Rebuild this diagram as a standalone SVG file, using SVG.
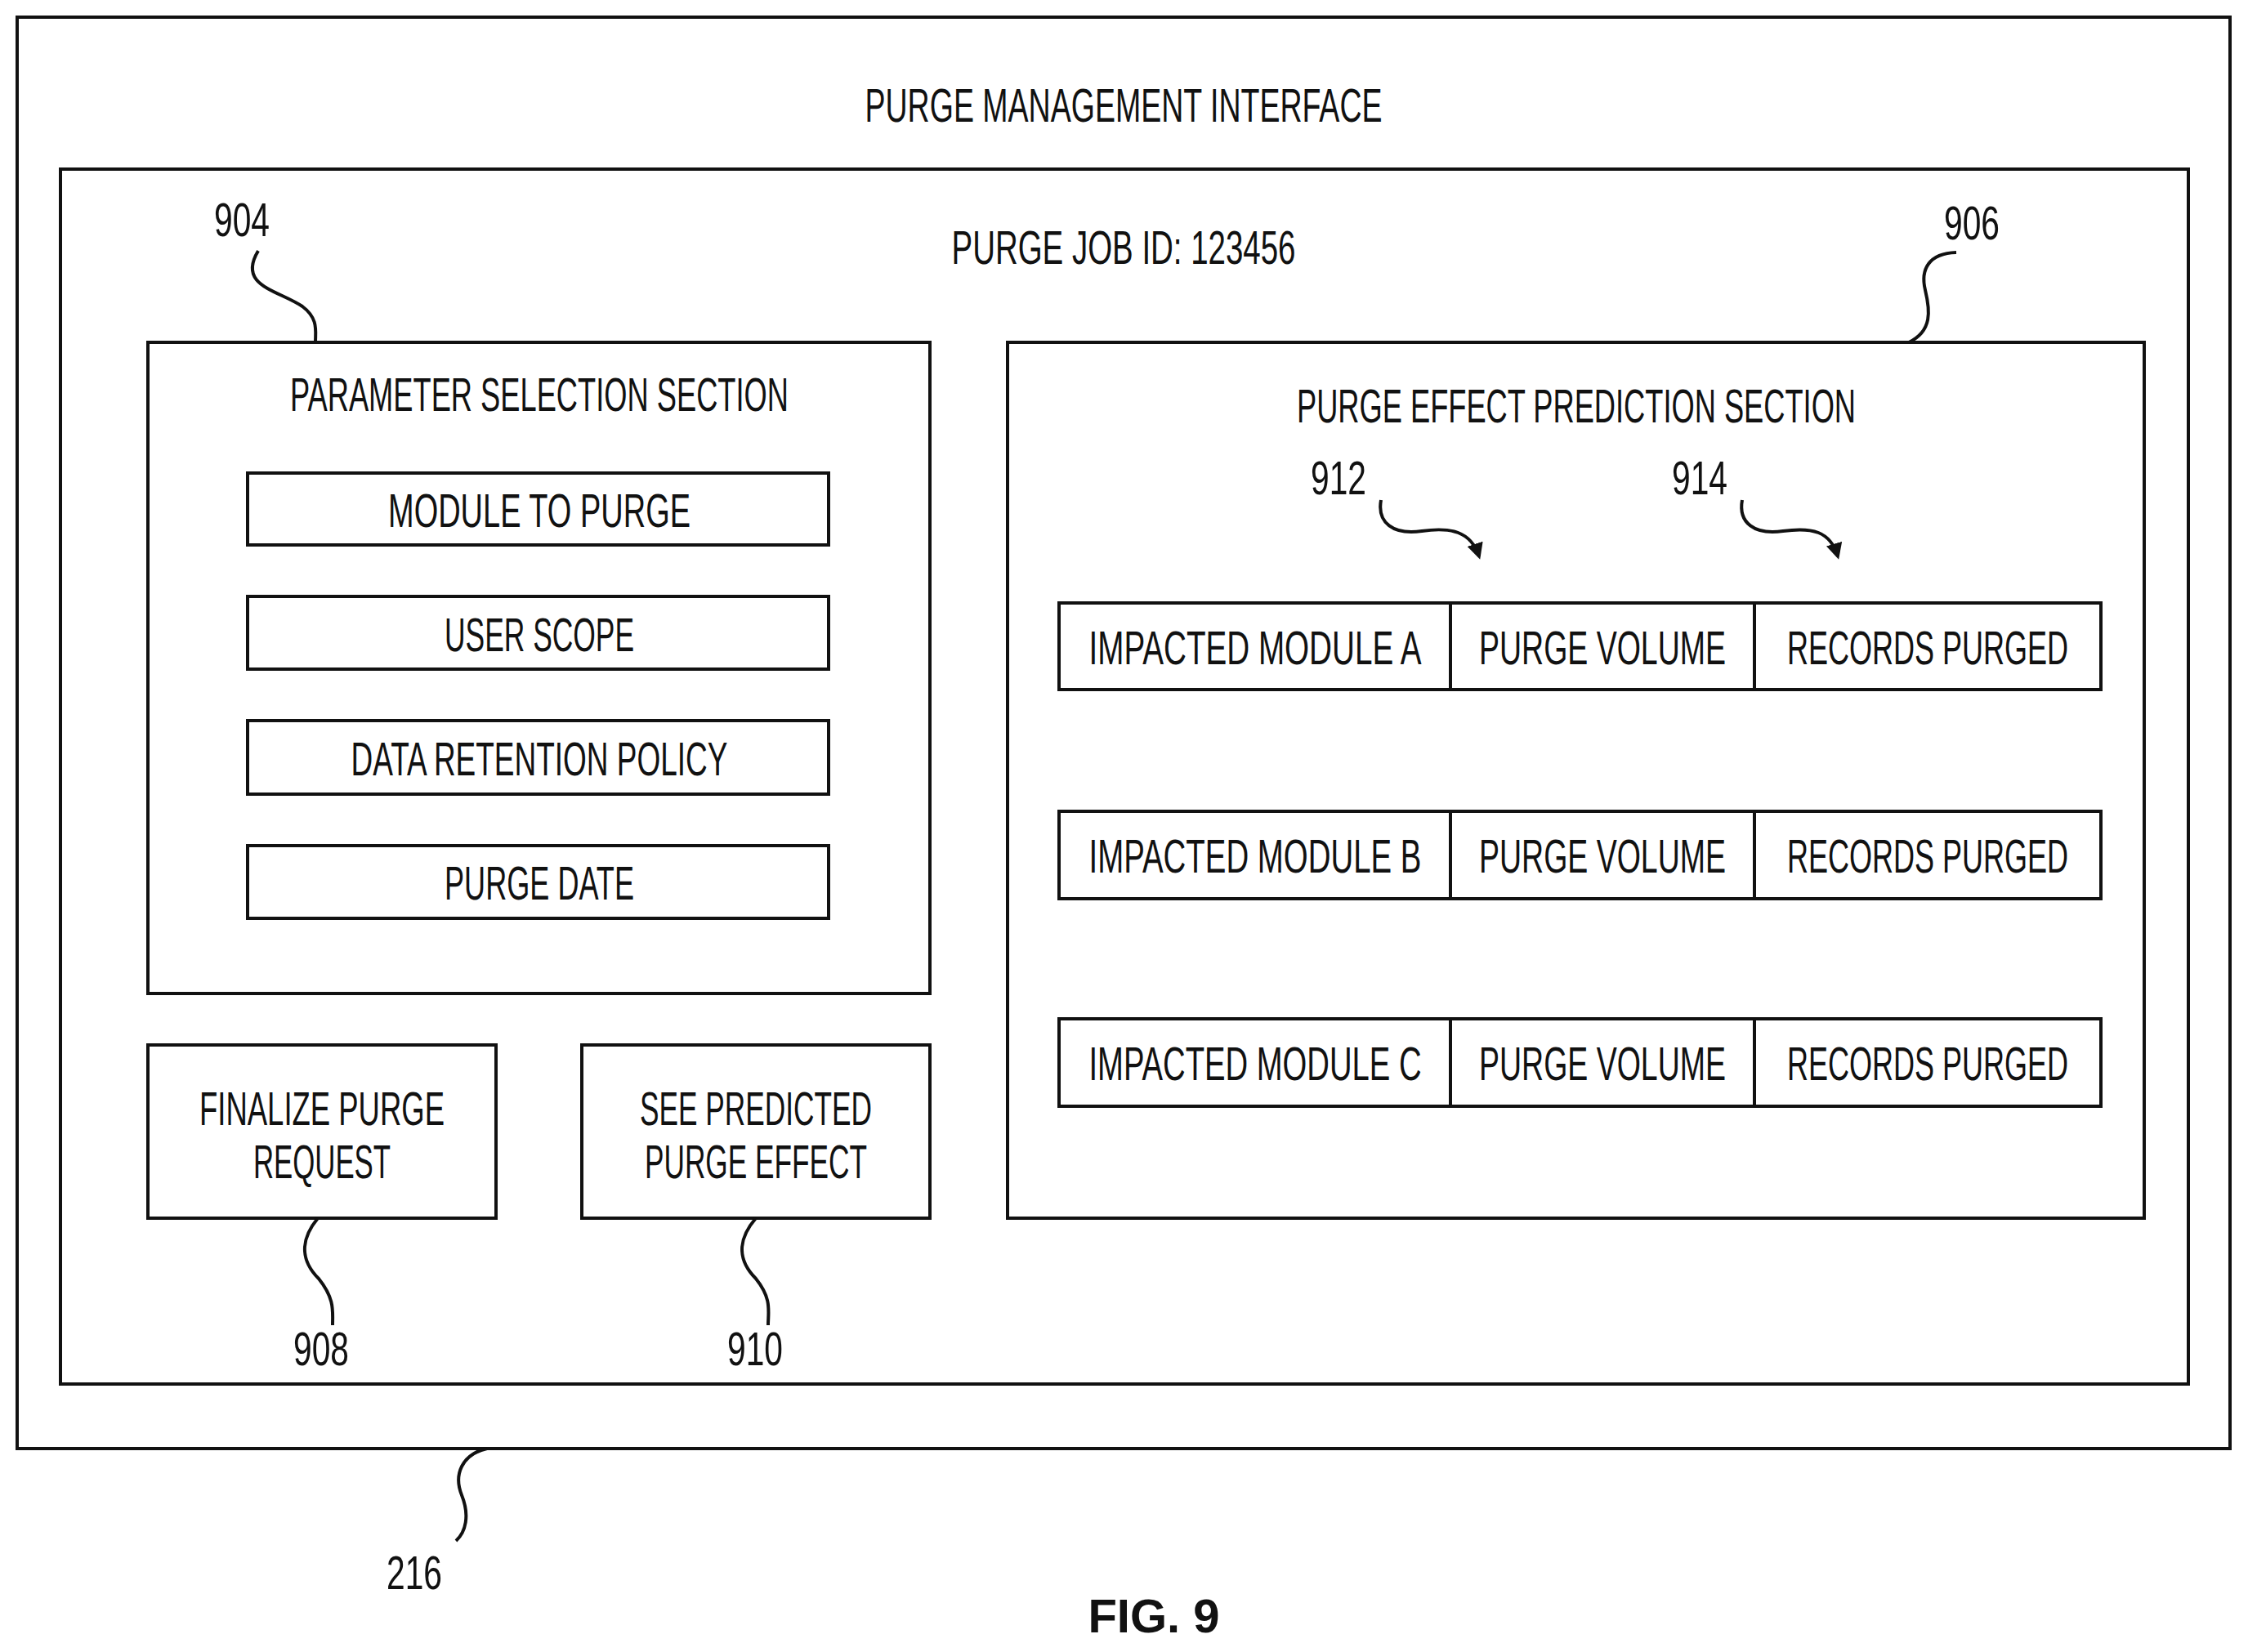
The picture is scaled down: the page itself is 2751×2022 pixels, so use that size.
<svg xmlns="http://www.w3.org/2000/svg" width="2751" height="2022" viewBox="0 0 2751 2022">
<style>
.b{fill:none;stroke:#111;stroke-width:4}
.l{fill:none;stroke:#111;stroke-width:4}
text{font-family:"Liberation Sans",Arial,sans-serif;font-size:58px;fill:#111;text-anchor:middle}
</style>
<defs><marker id="a" viewBox="0 0 10 10" refX="8" refY="5" markerWidth="5" markerHeight="5" orient="auto"><path d="M0,0L10,5L0,10z" fill="#111"/></marker></defs>
<rect width="2751" height="2022" fill="#fff"/>
<g id="outer"><rect class="b" x="21" y="21" width="2708" height="1752"/><text x="1375" y="149" textLength="633" lengthAdjust="spacingAndGlyphs">PURGE MANAGEMENT INTERFACE</text></g>
<g id="inner"><rect class="b" x="74" y="207" width="2604" height="1487"/><text x="1375" y="323" textLength="421" lengthAdjust="spacingAndGlyphs">PURGE JOB ID: 123456</text></g>
<g id="param"><rect class="b" x="181" y="419" width="957" height="797"/><text x="660" y="503" textLength="610" lengthAdjust="spacingAndGlyphs">PARAMETER SELECTION SECTION</text>
<rect class="b" x="303" y="579" width="711" height="88"/><text x="660" y="645" textLength="370" lengthAdjust="spacingAndGlyphs">MODULE TO PURGE</text>
<rect class="b" x="303" y="730" width="711" height="89"/><text x="660" y="797" textLength="232" lengthAdjust="spacingAndGlyphs">USER SCOPE</text>
<rect class="b" x="303" y="882" width="711" height="90"/><text x="660" y="949" textLength="461" lengthAdjust="spacingAndGlyphs">DATA RETENTION POLICY</text>
<rect class="b" x="303" y="1035" width="711" height="89"/><text x="660" y="1101" textLength="232" lengthAdjust="spacingAndGlyphs">PURGE DATE</text></g>
<g id="finalize"><rect class="b" x="181" y="1279" width="426" height="212"/><text x="394" y="1377" textLength="300" lengthAdjust="spacingAndGlyphs">FINALIZE PURGE</text><text x="394" y="1442" textLength="168" lengthAdjust="spacingAndGlyphs">REQUEST</text></g>
<g id="see"><rect class="b" x="712" y="1279" width="426" height="212"/><text x="925" y="1377" textLength="284" lengthAdjust="spacingAndGlyphs">SEE PREDICTED</text><text x="925" y="1442" textLength="272" lengthAdjust="spacingAndGlyphs">PURGE EFFECT</text></g>
<g id="predict"><rect class="b" x="1233" y="419" width="1391" height="1072"/><text x="1929" y="517" textLength="684" lengthAdjust="spacingAndGlyphs">PURGE EFFECT PREDICTION SECTION</text>
<rect class="b" x="1296" y="738" width="1275" height="106"/><line class="l" x1="1775" y1="738" x2="1775" y2="844"/><line class="l" x1="2147" y1="738" x2="2147" y2="844"/>
<text x="1536" y="813" textLength="407" lengthAdjust="spacingAndGlyphs">IMPACTED MODULE A</text><text x="1961" y="813" textLength="302" lengthAdjust="spacingAndGlyphs">PURGE VOLUME</text><text x="2359" y="813" textLength="344" lengthAdjust="spacingAndGlyphs">RECORDS PURGED</text>
<rect class="b" x="1296" y="993" width="1275" height="107"/><line class="l" x1="1775" y1="993" x2="1775" y2="1100"/><line class="l" x1="2147" y1="993" x2="2147" y2="1100"/>
<text x="1536" y="1068" textLength="407" lengthAdjust="spacingAndGlyphs">IMPACTED MODULE B</text><text x="1961" y="1068" textLength="302" lengthAdjust="spacingAndGlyphs">PURGE VOLUME</text><text x="2359" y="1068" textLength="344" lengthAdjust="spacingAndGlyphs">RECORDS PURGED</text>
<rect class="b" x="1296" y="1247" width="1275" height="107"/><line class="l" x1="1775" y1="1247" x2="1775" y2="1354"/><line class="l" x1="2147" y1="1247" x2="2147" y2="1354"/>
<text x="1536" y="1322" textLength="407" lengthAdjust="spacingAndGlyphs">IMPACTED MODULE C</text><text x="1961" y="1322" textLength="302" lengthAdjust="spacingAndGlyphs">PURGE VOLUME</text><text x="2359" y="1322" textLength="344" lengthAdjust="spacingAndGlyphs">RECORDS PURGED</text></g>
<g id="labels"><text x="296" y="289" textLength="68" lengthAdjust="spacingAndGlyphs">904</text><text x="2413" y="293" textLength="68" lengthAdjust="spacingAndGlyphs">906</text><text x="393" y="1671" textLength="68" lengthAdjust="spacingAndGlyphs">908</text><text x="924" y="1671" textLength="68" lengthAdjust="spacingAndGlyphs">910</text><text x="1638" y="605" textLength="68" lengthAdjust="spacingAndGlyphs">912</text><text x="2080" y="605" textLength="68" lengthAdjust="spacingAndGlyphs">914</text><text x="507" y="1945" textLength="68" lengthAdjust="spacingAndGlyphs">216</text>
<text x="1412" y="1998" style="font-weight:bold;font-size:58px">FIG. 9</text></g>
<g id="connectors">
<path class="l" d="M316,307C290,350 340,355 370,375C390,390 386,405 386,419"/>
<path class="l" d="M2394,309C2360,310 2350,330 2356,355C2362,380 2365,405 2336,419"/>
<path class="l" d="M389,1491C365,1520 370,1545 390,1565C410,1590 407,1605 407,1622"/>
<path class="l" d="M925,1491C900,1520 905,1545 925,1565C945,1590 940,1605 940,1622"/>
<path class="l" d="M596,1773C565,1780 555,1805 565,1830C575,1855 570,1875 558,1886"/>
<path class="l" marker-end="url(#a)" d="M1690,612C1685,640 1705,655 1740,650C1775,645 1800,650 1810,681"/>
<path class="l" marker-end="url(#a)" d="M2132,612C2127,640 2147,655 2182,650C2217,645 2240,650 2249,681"/>
</g>
</svg>
